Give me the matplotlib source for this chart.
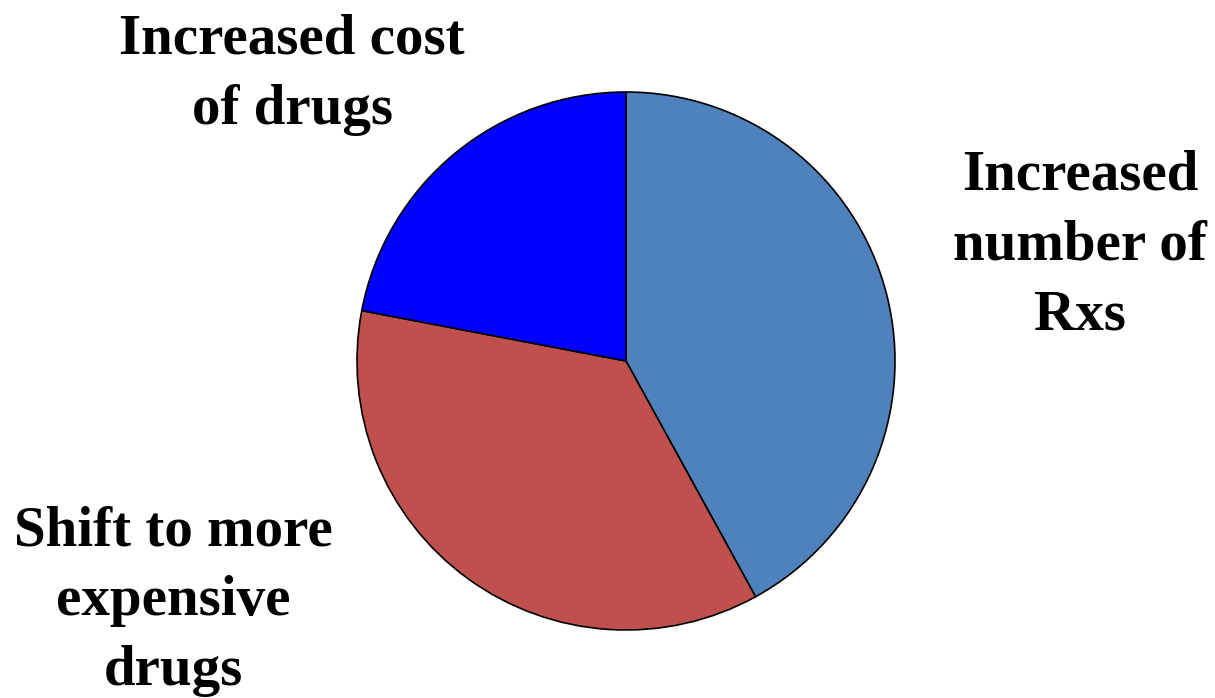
import matplotlib
matplotlib.use("Agg")
import matplotlib.pyplot as plt

categories = ["Increased number of Rxs", "Shift to more expensive drugs", "Increased cost of drugs"]
shares = [42, 36, 22]
colors = ["#4F81BD", "#C0504D", "#0000FF"]
label_texts = ["Increased\nnumber of\nRxs", "Shift to more\nexpensive\ndrugs", "Increased cost\nof drugs"]
label_pos = [(1080, 452), (173, 97), (292, 623)]

W, H = 1215, 698
fig = plt.figure(figsize=(W / 100, H / 100), dpi=100)
ax = fig.add_axes([0, 0, 1, 1])
ax.set_xlim(0, W)
ax.set_ylim(0, H)
ax.set_aspect("equal")
ax.axis("off")

ax.pie(shares, colors=colors, startangle=90, counterclock=False,
       center=(626, H - 361), radius=269,
       wedgeprops=dict(edgecolor="black", linewidth=1.2))
ax.set_xlim(0, W)
ax.set_ylim(0, H)

for txt, (x, y) in zip(label_texts, label_pos):
    ax.text(x, y, txt, ha="center", va="center", fontsize=41,
            fontweight="bold", family="Liberation Serif", linespacing=1.45)

fig.savefig("out.png", dpi=100)
